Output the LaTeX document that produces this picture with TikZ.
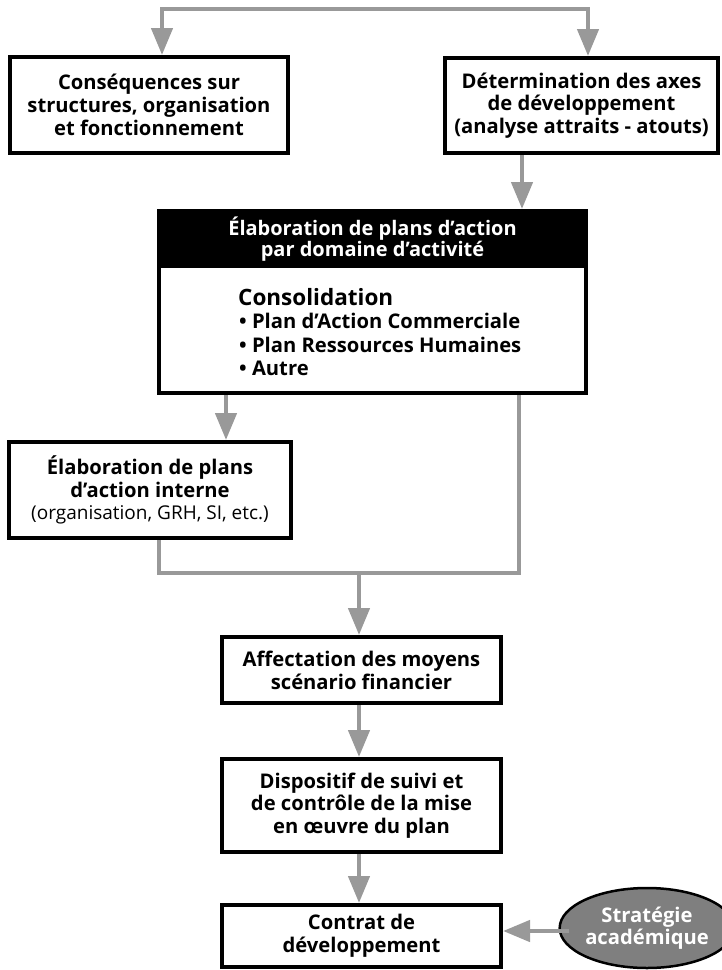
\documentclass[tikz,border=0pt]{standalone}
\usepackage{fontspec}
\setmainfont{Open Sans}
\usetikzlibrary{arrows.meta,shapes.geometric}
\definecolor{linkgray}{HTML}{999999}
\definecolor{ovalgray}{HTML}{7F7F7F}
\begin{document}
\begin{tikzpicture}[x=1pt,y=-1pt,
  box/.style={draw=black, line width=4pt, fill=white, align=center,
    font=\fontsize{20.2}{22.8}\selectfont\bfseries, inner sep=0pt},
  link/.style={draw=linkgray, line width=4.5pt},
  tip/.tip={Triangle[length=27pt,width=21pt]},
  arr/.style={link, -tip},
  bodytext/.style={anchor=base west, inner sep=0pt, font=\fontsize{20.2}{22.8}\selectfont\bfseries},
]
\useasboundingbox (0,0) rectangle (721,970);

% boxes
\node[box, minimum width=278pt, minimum height=96pt] (box1) at (149,105)
  {Conséquences sur\\structures, organisation\\et fonctionnement};
\node[box, minimum width=273pt, minimum height=95pt] (box2) at (581.5,105.5)
  {Détermination des axes\\de développement\\(analyse attraits - atouts)};

\node[box, minimum width=427pt, minimum height=180pt] (plan) at (372.5,303) {};
\node[fill=black, text=white, anchor=north, minimum width=431pt, minimum height=59pt,
  inner sep=0pt, align=center, font=\fontsize{20}{21}\selectfont\bfseries]
  (planhead) at ([yshift=2pt]plan.north)
  {Élaboration de plans d’action\\par domaine d’activité};
\node[bodytext, font=\fontsize{22.5}{24}\selectfont\bfseries] (cons) at (238,305) {Consolidation};
\node[bodytext] (item1) at (239,328) {• Plan d’Action Commerciale};
\node[bodytext] (item2) at (239,352) {• Plan Ressources Humaines};
\node[bodytext] (item3) at (239,375) {• Autre};

\node[box, minimum width=282pt, minimum height=96pt] (box4) at (150,490)
  {Élaboration de plans\\d’action interne\\{\mdseries\fontsize{19}{22.8}\selectfont(organisation, GRH, SI, etc.)}};
\node[box, minimum width=279pt, minimum height=66pt] (box5) at (361.5,670)
  {Affectation des moyens\\scénario financier};
\node[box, minimum width=279pt, minimum height=93pt] (box6) at (361.5,805.5)
  {Dispositif de suivi et\\de contrôle de la mise\\en œuvre du plan};
\node[box, minimum width=279pt, minimum height=62pt] (box7) at (361.5,936)
  {Contrat de\\développement};
\node[ellipse, draw=black, line width=2.5pt, fill=ovalgray, text=white,
  minimum width=150pt, minimum height=80pt, inner sep=0pt, align=center,
  font=\fontsize{20.2}{22}\selectfont\bfseries] (strat) at (647,928)
  {Stratégie\\académique};

% column positions of the connectors
\coordinate (topL) at (162,9);
\coordinate (topR) at (588,9);
\coordinate (colA) at (522,0);
\coordinate (colB) at (226,0);
\coordinate (colC) at (159,0);
\coordinate (colD) at (519,0);
\coordinate (colE) at (359,0);
\coordinate (merge) at (359,573);
\coordinate (srow) at (0,931);

% connectors
\draw[link, tip-tip] (topL |- box1.north) -- (topL) -- (topR) -- (topR |- box2.north);
\draw[arr] (colA |- box2.south) -- (colA |- planhead.north);
\draw[arr] (colB |- plan.south) -- (colB |- box4.north);
\draw[link] (colC |- box4.south) |- (merge) -| (colD |- plan.south);
\draw[arr] (merge) -- (colE |- box5.north);
\draw[arr] (colE |- box5.south) -- (colE |- box6.north);
\draw[arr] (colE |- box6.south) -- (colE |- box7.north);
\draw[arr] ([xshift=11pt]strat.west |- srow) -- (box7.east |- srow);
\end{tikzpicture}
\end{document}
